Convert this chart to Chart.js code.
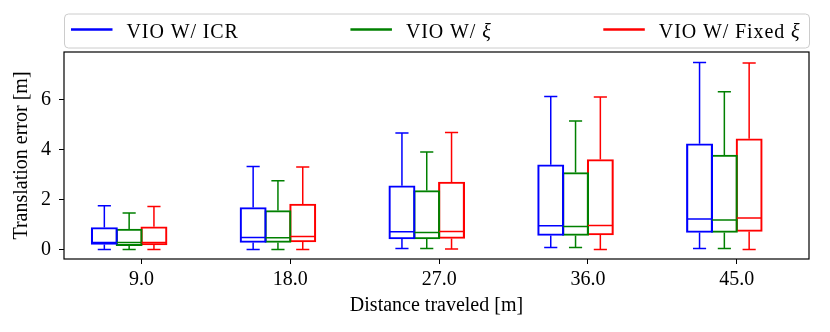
<!DOCTYPE html>
<html>
<head>
<meta charset="utf-8">
<script src="https://cdn.jsdelivr.net/npm/chart.js@4"></script>
<style>
    html, body { margin: 0; padding: 0; background: #fff; }
    canvas { display: block; }
</style>
</head>
<body>
<canvas id="errorChart" width="830" height="332"></canvas>
<script>
// Distance groups (x ticks)
const distances = [9, 18, 27, 36, 45];
const seriesLabels = ['VIO W/ ICR', 'VIO W/ \u03be', 'VIO W/ Fixed \u03be'];
const seriesColors = ['#0000ff', '#008000', '#ff0000'];
const yTicks = [0, 2, 4, 6];

// Box stats per distance: [whisker low, q1, median, q3, whisker high]
const icrBoxes = [
    [0.01, 0.21, 0.29, 0.89, 1.76],
    [0.01, 0.29, 0.49, 1.69, 3.33],
    [0.05, 0.43, 0.72, 2.56, 4.67],
    [0.09, 0.57, 0.96, 3.40, 6.13],
    [0.05, 0.69, 1.23, 4.24, 7.49]
];
const xiBoxes = [
    [0.01, 0.16, 0.29, 0.83, 1.47],
    [0.01, 0.29, 0.48, 1.57, 2.76],
    [0.05, 0.43, 0.69, 2.37, 3.91],
    [0.09, 0.57, 0.93, 3.09, 5.15],
    [0.05, 0.69, 1.19, 3.79, 6.32]
];
const fixedXiBoxes = [
    [0.01, 0.19, 0.29, 0.92, 1.73],
    [0.01, 0.31, 0.53, 1.83, 3.31],
    [0.03, 0.45, 0.73, 2.71, 4.69],
    [0.01, 0.59, 0.97, 3.61, 6.11],
    [0.01, 0.73, 1.27, 4.44, 7.47]
];

const boxWidth = 1.5;              // in metres on the x axis
const boxOffsets = [-1.5, -0.5, 0.5];
const FONT = "'Liberation Serif', 'Times New Roman', serif";

Chart.defaults.font.family = FONT;
Chart.defaults.font.size = 20;
Chart.defaults.color = '#000';

function makeDataset(label, color, boxes, k) {
    return {
        label: label,
        stats: boxes,
        data: boxes.map((b, i) => ({ x: distances[i] + boxOffsets[k] * boxWidth, y: [b[1], b[3]] })),
        backgroundColor: 'rgba(0,0,0,0)',
        borderColor: color,
        borderWidth: 1.5,
        borderSkipped: false,
        grouped: false,
        barPercentage: 1,
        categoryPercentage: 1
    };
}

// whiskers, caps, medians and the axes frame
const boxExtras = {
    id: 'boxExtras',
    afterLayout(chart) {
        // box width follows the x scale (plus the line width, as matplotlib strokes on the edge)
        const x = chart.scales.x;
        const w = x.getPixelForValue(boxWidth) - x.getPixelForValue(0);
        chart.data.datasets.forEach(ds => { ds.barThickness = w + ds.borderWidth; });
    },
    afterDatasetsDraw(chart) {
        const { ctx, chartArea, scales: { y } } = chart;
        chart.data.datasets.forEach((ds, di) => {
            const meta = chart.getDatasetMeta(di);
            ctx.save();
            ctx.strokeStyle = ds.borderColor;
            ctx.lineWidth = 1.5;
            meta.data.forEach((bar, i) => {
                const [lo, q1, med, q3, hi] = ds.stats[i];
                const half = bar.width / 2 - 0.75;
                const cx = bar.x;
                const cap = (half + 0.75) / 2;
                ctx.beginPath();
                // median
                ctx.moveTo(cx - half, y.getPixelForValue(med));
                ctx.lineTo(cx + half, y.getPixelForValue(med));
                // whiskers
                ctx.moveTo(cx, y.getPixelForValue(q3));
                ctx.lineTo(cx, y.getPixelForValue(hi));
                ctx.moveTo(cx, y.getPixelForValue(q1));
                ctx.lineTo(cx, y.getPixelForValue(lo));
                // caps
                ctx.moveTo(cx - cap, y.getPixelForValue(hi));
                ctx.lineTo(cx + cap, y.getPixelForValue(hi));
                ctx.moveTo(cx - cap, y.getPixelForValue(lo));
                ctx.lineTo(cx + cap, y.getPixelForValue(lo));
                ctx.stroke();
            });
            ctx.restore();
        });
        ctx.save();
        ctx.strokeStyle = '#000';
        ctx.lineWidth = 1.2;
        ctx.strokeRect(chartArea.left, chartArea.top, chartArea.right - chartArea.left, chartArea.bottom - chartArea.top);
        ctx.restore();
    }
};

// matplotlib style legend in a rounded frame, expanded over the axes width
const legendBox = {
    id: 'legendBox',
    afterDraw(chart) {
        const { ctx, chartArea } = chart;
        const left = chartArea.left + 0.5, right = chartArea.right + 0.5;
        const top = 14, height = 34, r = 4;
        ctx.save();
        ctx.beginPath();
        ctx.roundRect(left, top, right - left, height, r);
        ctx.fillStyle = '#fff';
        ctx.fill();
        ctx.strokeStyle = '#cccccc';
        ctx.lineWidth = 1;
        ctx.stroke();

        const normal = '20px ' + FONT;
        const italic = 'italic 20px ' + FONT;
        const spacing = 0.9;
        const lineLen = 41.5, gapText = 14;
        const charWidth = (ch) => {
            ctx.font = ch === '\u03be' ? italic : normal;
            return ctx.measureText(ch).width + spacing;
        };
        const textWidth = (s) => [...s].reduce((w, ch) => w + charWidth(ch), 0);
        const widths = chart.data.datasets.map(ds => lineLen + gapText + textWidth(ds.label));
        const innerLeft = left + 6.5, innerRight = right - 9;
        const gap = (innerRight - innerLeft - widths.reduce((a, b) => a + b, 0)) / (widths.length - 1);
        let x = innerLeft;
        chart.data.datasets.forEach((ds, i) => {
            ctx.strokeStyle = ds.borderColor;
            ctx.lineWidth = 2.7;
            ctx.beginPath();
            ctx.moveTo(x, 29.5);
            ctx.lineTo(x + lineLen, 29.5);
            ctx.stroke();
            let tx = x + lineLen + gapText;
            ctx.fillStyle = '#000';
            ctx.textBaseline = 'alphabetic';
            for (const ch of ds.label) {
                const cw = charWidth(ch);
                ctx.fillText(ch, tx, 38);
                tx += cw;
            }
            x += widths[i] + gap;
        });
        ctx.restore();
    }
};

function initializeChart() {
    const ctx = document.getElementById('errorChart').getContext('2d');
    new Chart(ctx, {
        type: 'bar',
        data: {
            datasets: [
                makeDataset(seriesLabels[0], seriesColors[0], icrBoxes, 0),
                makeDataset(seriesLabels[1], seriesColors[1], xiBoxes, 1),
                makeDataset(seriesLabels[2], seriesColors[2], fixedXiBoxes, 2)
            ]
        },
        options: {
            responsive: false,
            animation: false,
            layout: { padding: { top: 52, right: 21, bottom: 0, left: 0 } },
            plugins: {
                legend: { display: false },
                tooltip: { enabled: false }
            },
            scales: {
                x: {
                    type: 'linear',
                    min: 4.31,
                    max: 49.37,
                    offset: false,
                    afterBuildTicks: (scale) => { scale.ticks = distances.map(v => ({ value: v })); },
                    afterFit: (scale) => { scale.height = 73; },
                    ticks: {
                        padding: 4,
                        maxRotation: 0,
                        callback: (v) => Number(v).toFixed(1)
                    },
                    grid: {
                        offset: false,
                        drawOnChartArea: false,
                        drawTicks: true,
                        tickLength: 5,
                        tickColor: '#000',
                        tickWidth: 1
                    },
                    border: { display: false },
                    title: {
                        display: true,
                        text: 'Distance traveled [m]',
                        padding: { top: 0, bottom: 14 }
                    }
                },
                y: {
                    min: -0.37,
                    max: 7.91,
                    afterBuildTicks: (scale) => { scale.ticks = yTicks.map(v => ({ value: v })); },
                    afterFit: (scale) => { scale.width = 64; },
                    ticks: { padding: 8 },
                    grid: {
                        drawOnChartArea: false,
                        drawTicks: true,
                        tickLength: 5,
                        tickColor: '#000',
                        tickWidth: 1
                    },
                    border: { display: false },
                    title: {
                        display: true,
                        text: 'Translation error [m]',
                        padding: { top: 10, bottom: 0 }
                    }
                }
            }
        },
        plugins: [boxExtras, legendBox]
    });
}

document.addEventListener('DOMContentLoaded', () => {
    initializeChart();
});
</script>
</body>
</html>
